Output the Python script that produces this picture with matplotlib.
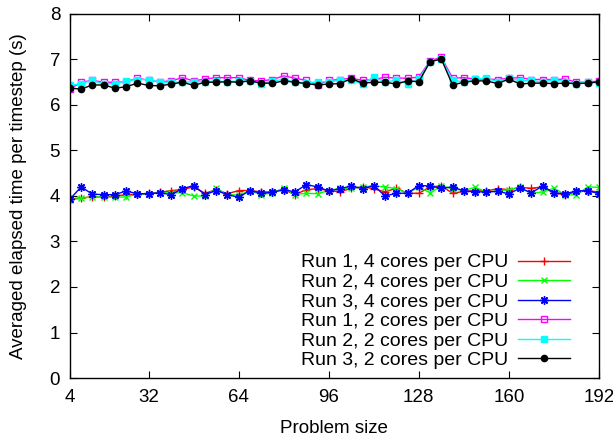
import numpy as np
import matplotlib
matplotlib.use("Agg")
import matplotlib.pyplot as plt

plt.rcParams['font.family'] = ['Liberation Sans', 'DejaVu Sans']

problem_size = list(range(4, 193, 4))

run1_4c = [3.93, 3.96, 3.98, 3.98, 4.00, 4.03, 4.04, 4.06, 4.08, 4.12, 4.14, 4.20,
           4.06, 4.14, 4.05, 4.12, 4.12, 4.09, 4.09, 4.14, 4.03, 4.14, 4.16, 4.12,
           4.09, 4.17, 4.20, 4.16, 4.09, 4.17, 4.06, 4.06, 4.20, 4.22, 4.06, 4.10,
           4.12, 4.11, 4.16, 4.14, 4.19, 4.17, 4.20, 4.06, 4.03, 4.09, 4.11, 4.09]
run2_4c = [3.91, 3.95, 3.98, 3.98, 3.97, 3.98, 4.04, 4.05, 4.07, 4.07, 4.07, 4.00,
           4.00, 4.17, 4.03, 4.02, 4.11, 4.03, 4.07, 4.17, 4.03, 4.06, 4.05, 4.12,
           4.17, 4.17, 4.20, 4.22, 4.20, 4.16, 4.06, 4.20, 4.07, 4.22, 4.16, 4.12,
           4.19, 4.09, 4.11, 4.14, 4.19, 4.06, 4.09, 4.17, 4.03, 4.02, 4.20, 4.19]
run3_4c = [3.93, 4.20, 4.04, 4.03, 4.03, 4.11, 4.05, 4.05, 4.07, 4.03, 4.16, 4.23,
           4.03, 4.12, 4.03, 3.97, 4.12, 4.06, 4.08, 4.14, 4.09, 4.25, 4.20, 4.11,
           4.16, 4.22, 4.16, 4.23, 4.00, 4.06, 4.06, 4.23, 4.22, 4.17, 4.20, 4.11,
           4.09, 4.09, 4.10, 4.05, 4.17, 4.07, 4.22, 4.07, 4.05, 4.11, 4.12, 4.05]
run1_2c = [6.35, 6.50, 6.54, 6.50, 6.50, 6.51, 6.59, 6.54, 6.51, 6.53, 6.60, 6.53,
           6.57, 6.60, 6.60, 6.60, 6.54, 6.53, 6.56, 6.64, 6.59, 6.54, 6.44, 6.54,
           6.56, 6.59, 6.54, 6.56, 6.61, 6.59, 6.59, 6.61, 6.97, 7.05, 6.59, 6.60,
           6.57, 6.57, 6.56, 6.59, 6.60, 6.56, 6.56, 6.56, 6.57, 6.50, 6.50, 6.53]
run2_2c = [6.43, 6.47, 6.54, 6.46, 6.47, 6.53, 6.56, 6.56, 6.50, 6.50, 6.50, 6.51,
           6.51, 6.53, 6.51, 6.53, 6.53, 6.47, 6.53, 6.56, 6.51, 6.48, 6.51, 6.51,
           6.54, 6.54, 6.47, 6.61, 6.51, 6.54, 6.47, 6.57, 6.95, 7.02, 6.54, 6.51,
           6.57, 6.59, 6.51, 6.59, 6.53, 6.54, 6.50, 6.56, 6.51, 6.47, 6.51, 6.48]
run3_2c = [6.37, 6.35, 6.44, 6.44, 6.37, 6.40, 6.48, 6.43, 6.42, 6.46, 6.50, 6.43,
           6.50, 6.50, 6.51, 6.50, 6.53, 6.48, 6.48, 6.53, 6.50, 6.47, 6.44, 6.46,
           6.47, 6.58, 6.48, 6.50, 6.50, 6.46, 6.53, 6.51, 6.95, 7.01, 6.44, 6.50,
           6.53, 6.53, 6.47, 6.57, 6.46, 6.48, 6.48, 6.47, 6.48, 6.47, 6.48, 6.51]

labels = ["Run 1, 4 cores per CPU", "Run 2, 4 cores per CPU", "Run 3, 4 cores per CPU",
          "Run 1, 2 cores per CPU", "Run 2, 2 cores per CPU", "Run 3, 2 cores per CPU"]
x_ticks = [4, 32, 64, 96, 128, 160, 192]

series = [run1_4c, run2_4c, run3_4c, run1_2c, run2_2c, run3_2c]
colors = ["#ff0000", "#00ff00", "#0000ff", "#ff00ff", "#00ffff", "#000000"]
markers = ["+", "x", (8, 2, 0), "s", "s", "o"]
mfaces = ["#ff0000", "#00ff00", "#0000ff", "none", "#00ffff", "#000000"]
msizes = [6, 5, 6, 5, 5, 4.5]

fig = plt.figure(figsize=(6.13, 4.37), dpi=100)
ax = fig.add_axes([0.114, 0.135, 0.863, 0.833])

for y, c, m, mf, ms, lab in zip(series, colors, markers, mfaces, msizes, labels):
    ax.plot(problem_size, y, color=c, marker=m, markerfacecolor=mf, markeredgecolor=c,
            markersize=ms, linewidth=1.0, markeredgewidth=1.0, label=lab)

ax.set_xlim(4, 192)
ax.set_ylim(0, 8)
ax.set_xticks(x_ticks)
ax.set_yticks(range(0, 9))
ax.tick_params(direction='in', top=True, right=True, labelsize=13.5, length=5)
ax.tick_params(axis='x', pad=8)
ax.tick_params(axis='y', pad=7)
for s in ax.spines.values():
    s.set_linewidth(1.0)
ax.set_xlabel("Problem size", fontsize=13.5, labelpad=10)
ax.set_ylabel("Averaged elapsed time per timestep (s)", fontsize=13.5, labelpad=16)

ax.legend(loc='lower right', bbox_to_anchor=(0.962, 0.0), frameon=False, markerfirst=False,
          fontsize=14, handlelength=2.7, labelspacing=0.1, borderaxespad=0.05,
          handletextpad=0.5)

fig.savefig("out.png", dpi=100)
